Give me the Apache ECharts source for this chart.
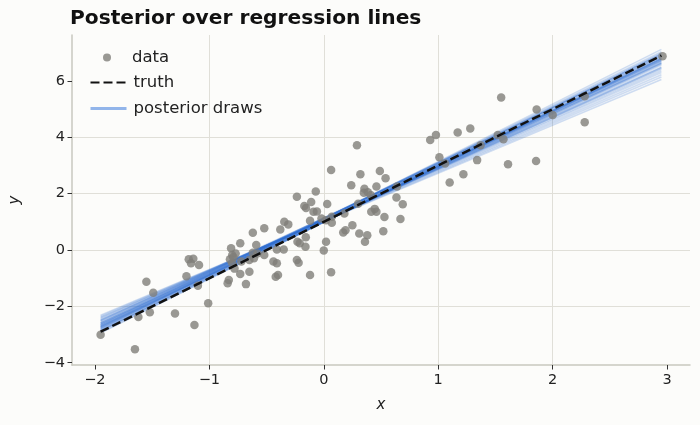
<!DOCTYPE html>
<html>
<head>
<meta charset="utf-8">
<script src="https://cdn.jsdelivr.net/npm/echarts@6/dist/echarts.min.js"></script>
<style>
  html, body { margin: 0; padding: 0; background: #fcfcfa; }
  #main { width: 700px; height: 425px; }
</style>
</head>
<body>
<div id="main"></div>
<script>
var dataX = [
    -1.95, -1.65, -1.62, -1.55, -1.49, -1.52, -1.30, -1.13, -1.01, -1.20,
    -1.18, -1.14, -1.16, -1.09, -1.10,
    -0.81, -0.73, -0.80, -0.77, -0.79, -0.82, -0.80, -0.78, -0.72, -0.83,
    -0.84, -0.73, -0.65, -0.68, -0.62, -0.52, -0.59, -0.62, -0.58, -0.61,
    -0.52, -0.65,
    -0.44, -0.41, -0.40, -0.42, -0.41, -0.35, -0.38, -0.345, -0.31, -0.23,
    -0.21, -0.157, -0.16, -0.235, -0.22, -0.12, -0.235, -0.17, -0.155, -0.11,
    -0.09, -0.06, -0.07, -0.12, 0.03, -0.02, 0.07, 0.02, 0.07, 0.02,
    0.0, 0.064, 0.064,
    0.29, 0.32, 0.24, 0.18, 0.17, 0.19, 0.25, 0.30, 0.355, 0.35,
    0.385, 0.41, 0.46, 0.49, 0.54, 0.445, 0.46, 0.415, 0.38, 0.36,
    0.31, 0.52, 0.53, 0.64, 0.635, 0.69, 0.67,
    0.93, 0.98, 1.17, 1.01, 1.06, 1.10, 1.22, 1.28, 1.37, 1.34,
    1.52, 1.57, 1.55, 1.61, 1.86, 1.855, 2.0, 2.28, 2.28, 2.96
];
var dataY = [
    -3.01, -3.52, -2.38, -1.13, -1.52, -2.21, -2.25, -2.66, -1.89, -0.93,
    -0.33, -0.31, -0.47, -0.53, -1.27,
    0.06, 0.24, -0.18, -0.12, -0.26, -0.33, -0.47, -0.66, -0.41, -1.06,
    -1.18, -0.85, -0.77, -1.21, 0.61, 0.77, 0.18, -0.10, -0.12, -0.29,
    -0.18, -0.35,
    -0.41, -0.47, -0.89, -0.95, 0.02, 0.02, 0.73, 1.00, 0.91, 0.29,
    0.24, 0.45, 0.12, -0.35, -0.45, -0.89, 1.89, 1.56, 1.49, 1.70,
    1.36, 1.37, 2.08, 1.04, 1.63, 1.12, 1.18, 1.06, 0.97, 0.29,
    -0.02, -0.79, 2.84,
    3.72, 2.69, 2.30, 1.30, 0.62, 0.70, 0.88, 1.64, 2.17, 2.03,
    2.05, 1.95, 2.25, 2.80, 2.55, 1.46, 1.36, 1.36, 0.52, 0.29,
    0.59, 0.67, 1.17, 2.25, 1.86, 1.62, 1.10,
    3.90, 4.08, 4.17, 3.29, 3.07, 2.40, 2.69, 4.31, 3.72, 3.19,
    4.08, 3.93, 5.41, 3.04, 4.99, 3.16, 4.79, 5.46, 4.53, 6.88
];

// true line, ends at the data range
var truthX = [-1.95, 2.95];
var truthY = [-2.9, 6.9];

// posterior draws: y at the left end and at the right end of drawX
var drawX = [-1.95, 2.95];
var drawStart = [
    -2.88, -2.95, -2.82, -2.92, -2.78, -2.88, -2.74, -2.85, -2.71, -2.81,
    -2.74, -2.66, -2.76, -2.69, -2.61, -2.71, -2.64, -2.56, -2.66, -2.58,
    -2.50, -2.60, -2.52, -2.50, -2.47, -2.44, -2.41, -2.38, -2.35, -2.31,
    -2.78, -2.66, -2.85, -2.60, -2.72
];
var drawEnd = [
    7.12, 6.97, 7.04, 6.88, 6.99, 6.84, 6.94, 6.79, 6.90, 6.76,
    6.79, 6.83, 6.70, 6.73, 6.77, 6.64, 6.67, 6.71, 6.56, 6.60,
    6.63, 6.47, 6.50, 6.46, 6.42, 6.36, 6.30, 6.22, 6.14, 6.05,
    6.95, 6.90, 6.80, 6.75, 6.62
];

var xTicks = [-2, -1, 0, 1, 2, 3];
var yTicks = [-4, -2, 0, 2, 4, 6];

var myChart = echarts.init(document.getElementById('main'), null, { renderer: 'canvas' });

function minus(v) {
    return String(v).replace('-', '\u2212');
}

var points = [];
for (var i = 0; i < dataX.length; i++) {
    points.push([dataX[i], dataY[i]]);
}

var series = [];
for (var k = 0; k < drawStart.length; k++) {
    series.push({
        name: 'posterior draws',
        type: 'line',
        symbol: 'none',
        silent: true,
        z: 2,
        itemStyle: { color: '#92b5ea' },
        lineStyle: { color: '#2c6fd1', width: 1.5, opacity: 0.22 },
        data: [[drawX[0], drawStart[k]], [drawX[1], drawEnd[k]]]
    });
}
series.push({
    name: 'data',
    type: 'scatter',
    symbol: 'circle',
    symbolSize: 8.5,
    z: 3,
    itemStyle: { color: '#807e79' },
    data: points
});
series.push({
    name: 'truth',
    type: 'line',
    symbol: 'none',
    z: 4,
    itemStyle: { color: '#111111' },
    lineStyle: { color: '#111111', width: 2.5, type: [9, 4] },
    data: [[truthX[0], truthY[0]], [truthX[1], truthY[1]]]
});

var axisCommon = {
    type: 'value',
    nameLocation: 'middle',
    nameTextStyle: { fontStyle: 'italic', fontSize: 15, color: '#222' },
    axisLine: { show: true, onZero: false, lineStyle: { color: '#c8c8bf', width: 1.5 } },
    splitLine: { show: true, showMinLine: false, showMaxLine: false, lineStyle: { color: '#e0dfd8', width: 1 } },
    axisTick: { show: true, length: 4.5, lineStyle: { color: '#333', width: 1 } },
    axisLabel: { fontSize: 14.5, color: '#222', formatter: minus }
};

var option = {
    backgroundColor: '#fcfcfa',
    animation: false,
    textStyle: { fontFamily: 'DejaVu Sans' },
    title: {
        text: 'Posterior over regression lines',
        left: 65,
        top: 4,
        textStyle: { fontFamily: 'DejaVu Sans', fontWeight: 'bold', fontSize: 20.2, color: '#111' }
    },
    legend: [
        {
            orient: 'vertical',
            left: 98,
            top: 44,
            itemWidth: 8,
            itemHeight: 8,
            textStyle: { fontSize: 16.5, color: '#222', padding: [0, 0, 0, 16] },
            data: ['data']
        },
        {
            orient: 'vertical',
            left: 84,
            top: 69,
            itemWidth: 36,
            itemHeight: 14,
            itemGap: 9,
            textStyle: { fontSize: 16.5, color: '#222', padding: [0, 0, 0, 2] },
            data: [
                { name: 'truth', itemStyle: { opacity: 0 } },
                { name: 'posterior draws', itemStyle: { opacity: 0 },
                  lineStyle: { color: '#92b5ea', width: 3, opacity: 1 } }
            ]
        }
    ],
    grid: { left: 70, right: 10, top: 35, bottom: 60, containLabel: false },
    xAxis: echarts.util.merge({
        name: 'x',
        nameGap: 33,
        min: -2.2,
        max: 3.2,
        axisTick: { customValues: xTicks },
        axisLabel: { customValues: xTicks, margin: 8 }
    }, axisCommon),
    yAxis: echarts.util.merge({
        name: 'y',
        nameGap: 49,
        min: -4.08,
        max: 7.63,
        axisTick: { customValues: yTicks },
        axisLabel: { customValues: yTicks, margin: 7 }
    }, axisCommon),
    series: series
};

myChart.setOption(option);
</script>
</body>
</html>
